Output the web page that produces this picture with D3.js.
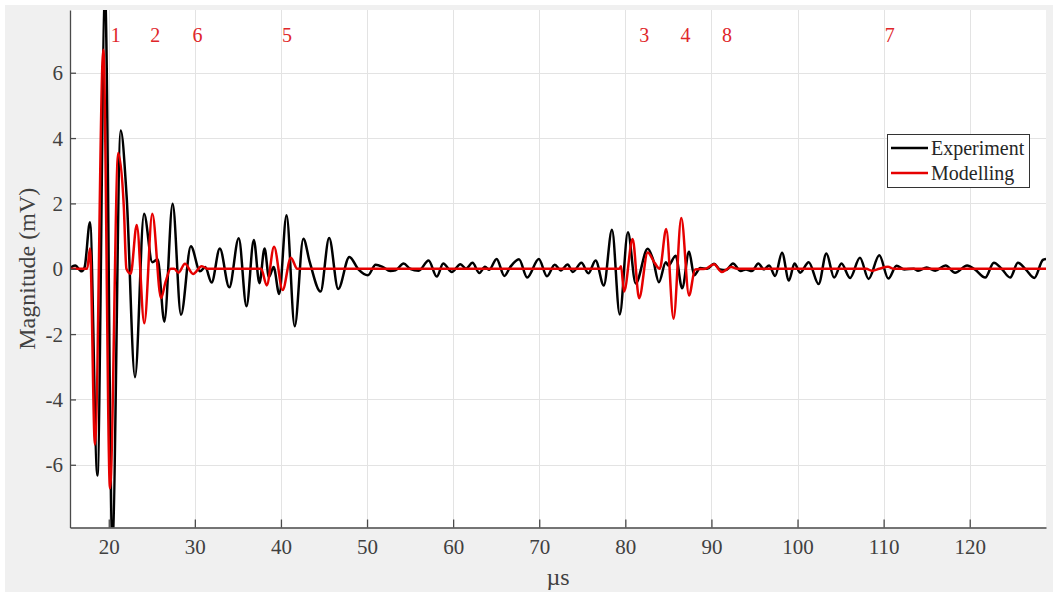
<!DOCTYPE html>
<html>
<head>
<meta charset="utf-8">
<script src="https://cdn.jsdelivr.net/npm/d3@7"></script>
<style>
  html, body { margin: 0; padding: 0; background: #ffffff; }
  svg { display: block; }
</style>
</head>
<body>
<script>
// ---------- data (time in µs, magnitude in mV) ----------
const experiment = [
  [15.5, 0.02], [16.1, 0.1], [16.85, -0.08], [17.2, 0.05], [17.82, 1.42], [18.68, -6.33],
  [19.57, 8.4], [20.42, -8.4], [21.39, 4.23], [22.08, 2.2], [23.05, -3.32], [24.1, 1.68],
  [25.06, 0.2], [25.68, 0.29], [26.46, -1.62], [27.42, 1.99], [28.39, -1.41], [29.54, 0.69],
  [30.6, -0.08], [31.2, 0.05], [31.95, -0.42], [32.9, 0.62], [34.0, -0.57], [35.1, 0.93],
  [36.0, -1.15], [36.85, 0.88], [37.5, -0.44], [38.1, 0.62], [38.6, -0.25], [39.15, 0.05],
  [39.8, -0.77], [40.65, 1.64], [41.6, -1.76], [42.6, 0.92], [43.35, 0.2], [44.6, -0.7],
  [45.6, 0.94], [46.65, -0.62], [47.95, 0.36], [49.0, -0.02], [50.1, -0.2], [51.0, 0.12],
  [51.8, 0.06], [52.7, -0.07], [53.3, -0.05], [54.25, 0.16], [55.0, 0.0], [56.0, -0.06],
  [57.15, 0.25], [58.1, -0.24], [58.85, 0.16], [59.85, -0.1], [60.85, 0.14], [61.5, 0.0],
  [62.25, 0.18], [63.05, -0.13], [63.7, 0.06], [64.2, -0.03], [65.05, 0.3], [65.95, -0.22],
  [66.6, 0.04], [67.65, 0.29], [68.6, -0.27], [69.95, 0.3], [70.9, -0.23], [71.8, 0.12],
  [72.5, -0.05], [73.3, 0.13], [73.9, -0.1], [74.9, 0.18], [75.7, -0.14], [76.55, 0.25],
  [77.5, -0.51], [78.45, 1.19], [79.35, -1.4], [80.3, 1.12], [81.2, -0.45], [82.6, 0.61],
  [83.2, 0.3], [83.9, -0.41], [84.7, 0.2], [85.0, 0.1], [85.85, 0.4], [86.6, -0.6],
  [87.4, 0.52], [88.0, -0.2], [88.7, 0.02], [89.5, 0.0], [90.3, 0.15], [91.0, -0.02],
  [91.7, -0.04], [92.5, 0.16], [93.4, -0.07], [94.0, -0.02], [94.7, -0.07], [95.45, 0.16],
  [96.1, -0.02], [96.7, 0.1], [97.4, -0.22], [98.2, 0.49], [99.0, -0.36], [99.65, 0.16],
  [100.3, -0.12], [101.3, 0.2], [102.45, -0.47], [103.35, 0.47], [104.25, -0.27], [105.1, 0.16],
  [106.1, -0.28], [107.25, 0.34], [108.25, -0.31], [109.5, 0.41], [110.55, -0.3], [111.5, 0.09],
  [112.4, -0.02], [113.5, 0.0], [114.0, -0.06], [115.0, 0.04], [116.0, -0.06], [117.2, 0.1],
  [118.3, -0.12], [119.7, 0.1], [120.6, -0.02], [121.8, -0.27], [122.8, 0.18], [123.7, 0.0],
  [124.7, -0.27], [125.6, 0.18], [126.5, -0.02], [127.5, -0.28], [128.5, 0.27], [128.86, 0.3]
];

const modelling = [
  [15.5, 0], [17.5, 0], [17.82, 0.62], [18.4, -5.38], [19.37, 6.7], [20.15, -6.72],
  [21.1, 3.54], [21.75, 1.9], [22.05, 0.0], [22.55, -0.15], [23.25, 1.34], [24.13, -1.67],
  [25.06, 1.68], [26.07, -0.9], [26.6, -0.4], [27.2, 0.0], [27.6, 0.0], [28.1, -0.12],
  [28.85, 0.15], [29.8, -0.16], [30.8, 0.08], [31.5, 0.0], [37.7, 0.0], [38.35, -0.51],
  [39.2, 0.67], [40.2, -0.65], [41.15, 0.34], [41.9, 0.0], [79.3, 0.0], [79.5, 0.08],
  [79.85, -0.7], [80.85, 0.91], [81.6, -0.9], [82.6, 0.5], [83.4, 0.18], [84.0, 0.0],
  [84.75, 1.22], [85.6, -1.53], [86.5, 1.55], [87.4, -0.82], [88.1, -0.02], [89.3, 0.0],
  [90.3, 0.14], [91.2, -0.1], [92.3, 0.05], [93.0, 0.0], [108.0, 0.0], [108.6, -0.06],
  [109.5, 0.0], [110.5, 0.06], [111.2, 0.0], [128.86, 0.0]
];

const xTicks = [20, 30, 40, 50, 60, 70, 80, 90, 100, 110, 120];
const yTicks = [-6, -4, -2, 0, 2, 4, 6];
const xDomain = [15.5, 128.86];
const yDomain = [-7.92, 7.92];

const annotationLabels = ["1", "2", "6", "5", "3", "4", "8", "7"];
const annotationTimes = [20.8, 25.4, 30.3, 40.7, 82.2, 87.0, 91.8, 110.7];

const seriesNames = ["Experiment", "Modelling"];
const seriesColors = ["#000000", "#e60000"];

// ---------- layout ----------
const W = 1053, H = 593;
const plot = { left: 70, right: 1046, top: 10, bottom: 527.5 };
const serif = "'Liberation Serif', 'Times New Roman', serif";

const svg = d3.select("body").append("svg").attr("width", W).attr("height", H);

svg.append("rect").attr("x", 5).attr("y", 5).attr("width", W - 5).attr("height", H - 6)
  .attr("fill", "#f0f0f0");
svg.append("rect").attr("x", plot.left).attr("y", plot.top)
  .attr("width", plot.right - plot.left).attr("height", plot.bottom - plot.top)
  .attr("fill", "#ffffff");

const x = d3.scaleLinear().domain(xDomain).range([plot.left, plot.right]);
const y = d3.scaleLinear().domain(yDomain).range([plot.bottom, plot.top]);

// grid
const grid = svg.append("g").attr("stroke", "#e3e3e3").attr("stroke-width", 1);
grid.selectAll("line.gx").data(xTicks).join("line")
  .attr("x1", d => Math.round(x(d)) + 0.5).attr("x2", d => Math.round(x(d)) + 0.5)
  .attr("y1", plot.top).attr("y2", plot.bottom);
grid.selectAll("line.gy").data(yTicks).join("line")
  .attr("y1", d => Math.round(y(d)) + 0.5).attr("y2", d => Math.round(y(d)) + 0.5)
  .attr("x1", plot.left).attr("x2", plot.right);

// clip
svg.append("defs").append("clipPath").attr("id", "clip")
  .append("rect").attr("x", plot.left).attr("y", plot.top)
  .attr("width", plot.right - plot.left).attr("height", plot.bottom - plot.top);

const line = d3.line().x(d => x(d[0])).y(d => y(d[1])).curve(d3.curveMonotoneX);

const lines = svg.append("g").attr("clip-path", "url(#clip)");
[experiment, modelling].forEach((data, i) => {
  lines.append("path").datum(data)
    .attr("fill", "none")
    .attr("stroke", seriesColors[i])
    .attr("stroke-width", 2.5)
    .attr("stroke-linejoin", "round")
    .attr("d", line);
});

// axes
const xAxis = d3.axisBottom(x).tickValues(xTicks).tickFormat(d => String(d))
  .tickSizeInner(-8).tickSizeOuter(0).tickPadding(12);
const yAxis = d3.axisLeft(y).tickValues(yTicks).tickFormat(d => String(d))
  .tickSizeInner(-6).tickSizeOuter(0).tickPadding(7);

const gx = svg.append("g").attr("transform", `translate(0,${plot.bottom})`).call(xAxis);
const gy = svg.append("g").attr("transform", `translate(${plot.left},0)`).call(yAxis);
[gx, gy].forEach(g => {
  g.select(".domain").attr("stroke", "#4a4a4a").attr("stroke-width", 1.3);
  g.selectAll(".tick line").attr("stroke", "#4a4a4a").attr("stroke-width", 1.3);
  g.selectAll(".tick text").attr("fill", "#404040")
    .style("font-family", serif).style("font-size", "21px");
});
gx.selectAll(".tick text").attr("dy", "0.71em");
gy.selectAll(".tick text").attr("dy", "0.34em");

// axis labels
svg.append("text").attr("x", (plot.left + plot.right) / 2).attr("y", 585)
  .attr("text-anchor", "middle").attr("fill", "#404040")
  .style("font-family", serif).style("font-size", "24px").text("µs");
svg.append("text")
  .attr("transform", `translate(35,${(plot.top + plot.bottom) / 2}) rotate(-90)`)
  .attr("text-anchor", "middle").attr("fill", "#404040")
  .style("font-family", serif).style("font-size", "24px").text("Magnitude (mV)");

// annotations
svg.append("g").selectAll("text").data(annotationLabels).join("text")
  .attr("x", (d, i) => x(annotationTimes[i])).attr("y", 42)
  .attr("text-anchor", "middle").attr("fill", "#e0262a")
  .style("font-family", serif).style("font-size", "20px")
  .text(d => d);

// legend
const lg = svg.append("g");
lg.append("rect").attr("x", 887.5).attr("y", 134.5).attr("width", 142).attr("height", 53)
  .attr("fill", "#ffffff").attr("stroke", "#333333").attr("stroke-width", 1);
seriesNames.forEach((name, i) => {
  const yy = 148 + i * 25;
  lg.append("line").attr("x1", 891).attr("x2", 928).attr("y1", yy).attr("y2", yy)
    .attr("stroke", seriesColors[i]).attr("stroke-width", 2.4);
  lg.append("text").attr("x", 931).attr("y", yy + 6.5).attr("fill", "#262626")
    .style("font-family", serif).style("font-size", "20px").text(name);
});
</script>
</body>
</html>
